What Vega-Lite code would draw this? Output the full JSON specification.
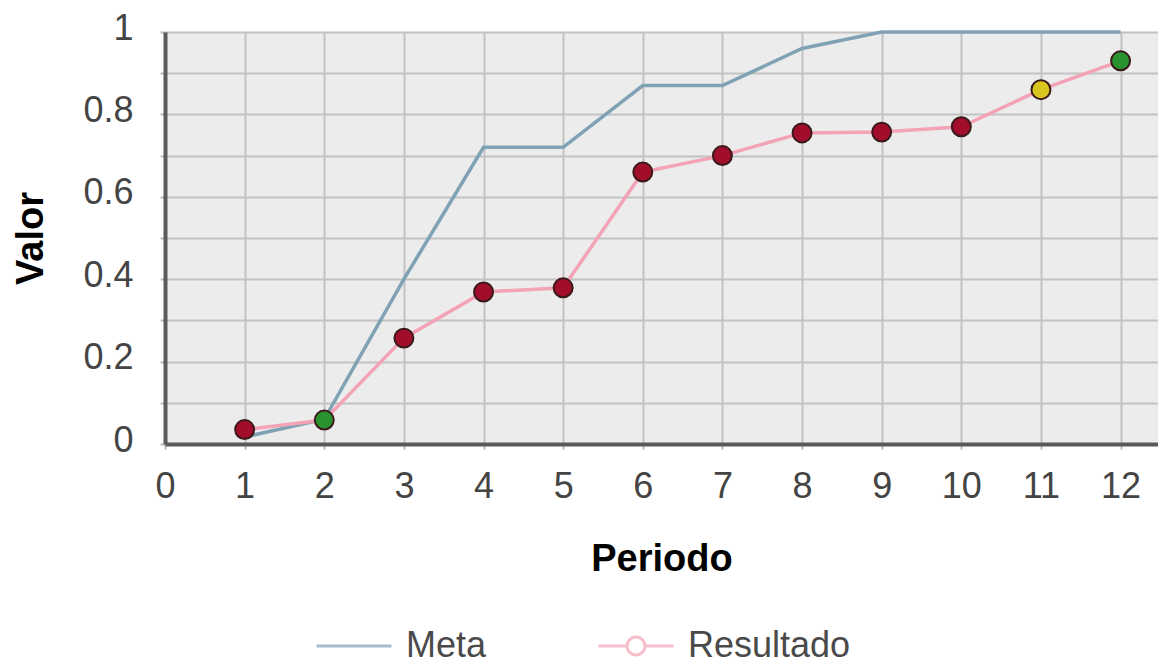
{
  "$schema": "https://vega.github.io/schema/vega-lite/v6.json",
  "width": 993,
  "height": 412,
  "autosize": {"type": "none"},
  "padding": {"left": 165, "top": 32, "right": 0, "bottom": 220},
  "background": "white",
  "config": {
    "font": "Liberation Sans",
    "view": {"fill": "#ececec", "stroke": null},
    "axis": {
      "gridColor": "#c2c2c2",
      "gridWidth": 2,
      "gridOpacity": 1,
      "domainColor": "#5a5a5a",
      "domainWidth": 4,
      "tickColor": "#bbbbbb",
      "tickSize": 5,
      "tickWidth": 2,
      "labelFontSize": 36,
      "labelColor": "#444444",
      "labelFont": "Liberation Sans",
      "titleFontSize": 38,
      "titleFont": "Liberation Sans",
      "titleFontWeight": "bold",
      "titleColor": "#000000"
    }
  },
  "data": {
    "values": [
      {"periodo": 1, "serie": "Meta", "valor": 0.017, "estado": null},
      {"periodo": 2, "serie": "Meta", "valor": 0.06, "estado": null},
      {"periodo": 3, "serie": "Meta", "valor": 0.40, "estado": null},
      {"periodo": 4, "serie": "Meta", "valor": 0.72, "estado": null},
      {"periodo": 5, "serie": "Meta", "valor": 0.72, "estado": null},
      {"periodo": 6, "serie": "Meta", "valor": 0.87, "estado": null},
      {"periodo": 7, "serie": "Meta", "valor": 0.87, "estado": null},
      {"periodo": 8, "serie": "Meta", "valor": 0.96, "estado": null},
      {"periodo": 9, "serie": "Meta", "valor": 1.0, "estado": null},
      {"periodo": 10, "serie": "Meta", "valor": 1.0, "estado": null},
      {"periodo": 11, "serie": "Meta", "valor": 1.0, "estado": null},
      {"periodo": 12, "serie": "Meta", "valor": 1.0, "estado": null},
      {"periodo": 1, "serie": "Resultado", "valor": 0.035, "estado": "rojo"},
      {"periodo": 2, "serie": "Resultado", "valor": 0.058, "estado": "verde"},
      {"periodo": 3, "serie": "Resultado", "valor": 0.257, "estado": "rojo"},
      {"periodo": 4, "serie": "Resultado", "valor": 0.369, "estado": "rojo"},
      {"periodo": 5, "serie": "Resultado", "valor": 0.379, "estado": "rojo"},
      {"periodo": 6, "serie": "Resultado", "valor": 0.66, "estado": "rojo"},
      {"periodo": 7, "serie": "Resultado", "valor": 0.70, "estado": "rojo"},
      {"periodo": 8, "serie": "Resultado", "valor": 0.755, "estado": "rojo"},
      {"periodo": 9, "serie": "Resultado", "valor": 0.757, "estado": "rojo"},
      {"periodo": 10, "serie": "Resultado", "valor": 0.77, "estado": "rojo"},
      {"periodo": 11, "serie": "Resultado", "valor": 0.86, "estado": "amarillo"},
      {"periodo": 12, "serie": "Resultado", "valor": 0.93, "estado": "verde"}
    ]
  },
  "encoding": {
    "x": {
      "field": "periodo",
      "type": "quantitative",
      "scale": {"domain": [0, 12.47], "nice": false, "zero": false},
      "axis": {
        "title": "Periodo",
        "values": [0, 1, 2, 3, 4, 5, 6, 7, 8, 9, 10, 11, 12],
        "format": "d",
        "labelPadding": 20,
        "titlePadding": 36,
        "labelFlush": false,
        "labelOverlap": false
      }
    },
    "y": {
      "field": "valor",
      "type": "quantitative",
      "scale": {"domain": [0, 1], "nice": false},
      "axis": {
        "title": "Valor",
        "values": [0, 0.1, 0.2, 0.3, 0.4, 0.5, 0.6, 0.7, 0.8, 0.9, 1],
        "format": "~g",
        "labelExpr": "round(datum.value * 10) % 2 == 0 ? datum.label : ''",
        "labelPadding": 27,
        "labelOffset": -4,
        "titlePadding": 32,
        "labelFlush": false,
        "labelOverlap": false,
        "labelBaseline": "middle"
      }
    }
  },
  "layer": [
    {
      "mark": {"type": "line", "strokeWidth": 3.5},
      "encoding": {
        "color": {
          "field": "serie",
          "type": "nominal",
          "scale": {"domain": ["Meta", "Resultado"], "range": ["#7fa2b4", "#f4a2b6"]},
          "legend": {
            "orient": "none",
            "legendX": 150,
            "legendY": 575,
            "direction": "horizontal",
            "columns": 2,
            "title": null,
            "padding": 0,
            "labelFontSize": 36,
            "labelLimit": 0,
            "labelColor": "#4a4a4a",
            "labelFont": "Liberation Sans",
            "labelOffset": 13,
            "columnPadding": 105,
            "symbolSize": 5625,
            "symbolStrokeWidth": 3,
            "symbolFillColor": "white"
          }
        }
      }
    },
    {
      "transform": [{"filter": "datum.periodo < 0"}],
      "mark": {"type": "point", "filled": false, "strokeWidth": 3},
      "encoding": {
        "color": {"field": "serie", "type": "nominal"},
        "shape": {
          "field": "serie",
          "type": "nominal",
          "scale": {
            "domain": ["Meta", "Resultado"],
            "range": [
              "M-1,0H1",
              "M-1,0H-0.24M0.24,0H1M0.24,0A0.24,0.24 0 1,1 -0.24,0A0.24,0.24 0 1,1 0.24,0Z"
            ]
          }
        }
      }
    },
    {
      "transform": [{"filter": "datum.serie === 'Resultado'"}],
      "mark": {"type": "circle", "size": 360, "stroke": "#3a1a1a", "strokeWidth": 2, "opacity": 1},
      "encoding": {
        "fill": {
          "field": "estado",
          "type": "nominal",
          "scale": {"domain": ["rojo", "verde", "amarillo"], "range": ["#a30d2c", "#2a9230", "#d9c61e"]},
          "legend": null
        }
      }
    }
  ]
}
